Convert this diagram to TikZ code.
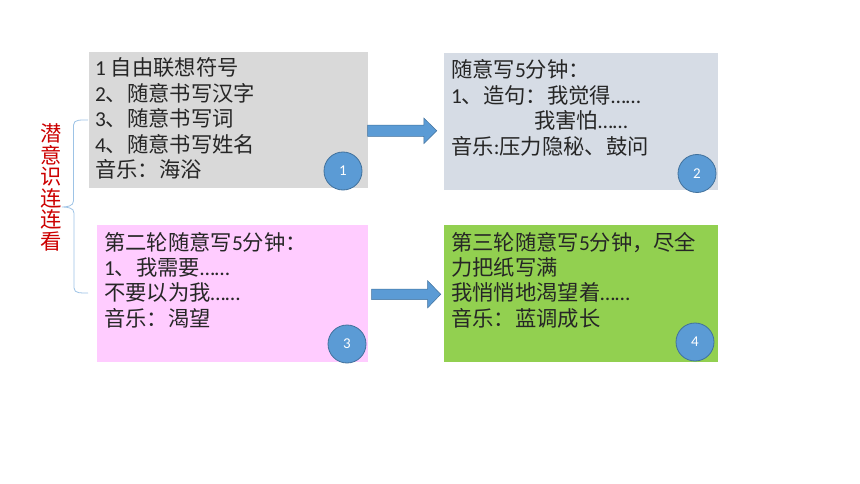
\documentclass[tikz,border=0pt]{standalone}
\usepackage{fontspec}
\setmainfont{Carlito}
\newfontfamily\cjk{Noto Sans CJK SC}
\newcommand\zh[1]{{\cjk #1}}
\definecolor{boxgray}{HTML}{D9D9D9}
\definecolor{boxblue}{HTML}{D6DCE5}
\definecolor{boxpink}{HTML}{FFCCFF}
\definecolor{boxgreen}{HTML}{92D050}
\definecolor{accent}{HTML}{5B9BD5}
\definecolor{accentdark}{HTML}{41719C}
\definecolor{bracecol}{HTML}{9DC3E6}
\definecolor{titlered}{HTML}{CC0000}
\tikzset{
  panel/.style={draw=none, inner sep=0, anchor=north west},
  txt/.style={inner sep=0, anchor=base west, font=\fontsize{21.3}{25.5}\selectfont, text=black!85},
  badge/.style={circle, fill=accent, draw=accentdark, line width=0.8pt, minimum size=38pt, inner sep=0,
    text=white, font=\fontsize{15}{15}\selectfont},
  blockarrow/.style={fill=accent, draw=accentdark, line width=0.5pt},
  bracket/.style={draw=bracecol, line width=0.8pt},
}
\begin{document}
\begin{tikzpicture}[x=1pt,y=-1pt]
\useasboundingbox (0,0) rectangle (860,484);
\fill[white] (0,0) rectangle (860,484);

% panels
\node[panel, fill=boxgray, minimum width=279pt, minimum height=136pt] (b1) at (89,52) {};
\node[panel, fill=boxblue, minimum width=274pt, minimum height=137pt] (b2) at (444,53) {};
\node[panel, fill=boxpink, minimum width=271pt, minimum height=137pt] (b3) at (97,225) {};
\node[panel, fill=boxgreen, minimum width=274pt, minimum height=137pt] (b4) at (444,225) {};

% texts
\node[txt] (t1) at (95,76) {\parbox[t]{270pt}{\raggedright
1 \zh{自由联想符号}\\
2\zh{、随意书写汉字}\\
3\zh{、随意书写词}\\
4\zh{、随意书写姓名}\\
\zh{音乐：海浴}}};
\node[txt] (t2) at (451,78) {\parbox[t]{265pt}{\raggedright
\zh{随意写}5\zh{分钟：}\\
1\zh{、造句：我觉得}……\\
\hspace*{83pt}\zh{我害怕}……\\
\zh{音乐}:\zh{压力隐秘、鼓问}}};
\node[txt] (t3) at (104,250) {\parbox[t]{262pt}{\raggedright
\zh{第二轮随意写}5\zh{分钟：}\\
1\zh{、我需要}……\\
\zh{不要以为我}……\\
\zh{音乐：渴望}}};
\node[txt] (t4) at (451,250) {\parbox[t]{265pt}{\raggedright
\zh{第三轮随意写}5\zh{分钟，尽全}\\
\zh{力把纸写满}\\
\zh{我悄悄地渴望着}……\\
\zh{音乐：蓝调成长}}};

% badges
\node[badge] (c1) at (343,171) {1};
\node[badge] (c2) at (697,173.5) {2};
\node[badge] (c3) at (347,344) {3};
\node[badge] (c4) at (695,342) {4};

% block arrows
\coordinate (a1s) at (367.5,130.8);
\coordinate (a1e) at (436.8,130.8);
\coordinate (a2s) at (371.7,294.3);
\coordinate (a2e) at (440.7,294.3);
\draw[blockarrow] ([shift={(0,-5.7)}]a1s) -- ([shift={(-13,-5.7)}]a1e) -- ([shift={(-13,-12.8)}]a1e)
  -- (a1e) -- ([shift={(-13,12.8)}]a1e) -- ([shift={(-13,5.7)}]a1e) -- ([shift={(0,5.7)}]a1s) -- cycle;
\draw[blockarrow] ([shift={(0,-5.2)}]a2s) -- ([shift={(-13,-5.2)}]a2e) -- ([shift={(-13,-13.5)}]a2e)
  -- (a2e) -- ([shift={(-13,13.5)}]a2e) -- ([shift={(-13,5.2)}]a2e) -- ([shift={(0,5.2)}]a2s) -- cycle;

% title
\node[text=titlered, align=center, inner sep=0, font=\fontsize{21.3}{21.5}\selectfont\cjk] (title) at (51,187.5)
  {潜\\意\\识\\连\\连\\看};

% brace
\coordinate (brtop) at (88,120);
\coordinate (brtip) at (62,207);
\coordinate (brbot) at (88,293);
\draw[bracket] (brtop) to[out=180,in=90] (73.5,125) -- (73.5,201) to[out=270,in=0] (brtip)
  to[out=0,in=90] (74,213) -- (74,288) to[out=270,in=180] (brbot);
\end{tikzpicture}
\end{document}
